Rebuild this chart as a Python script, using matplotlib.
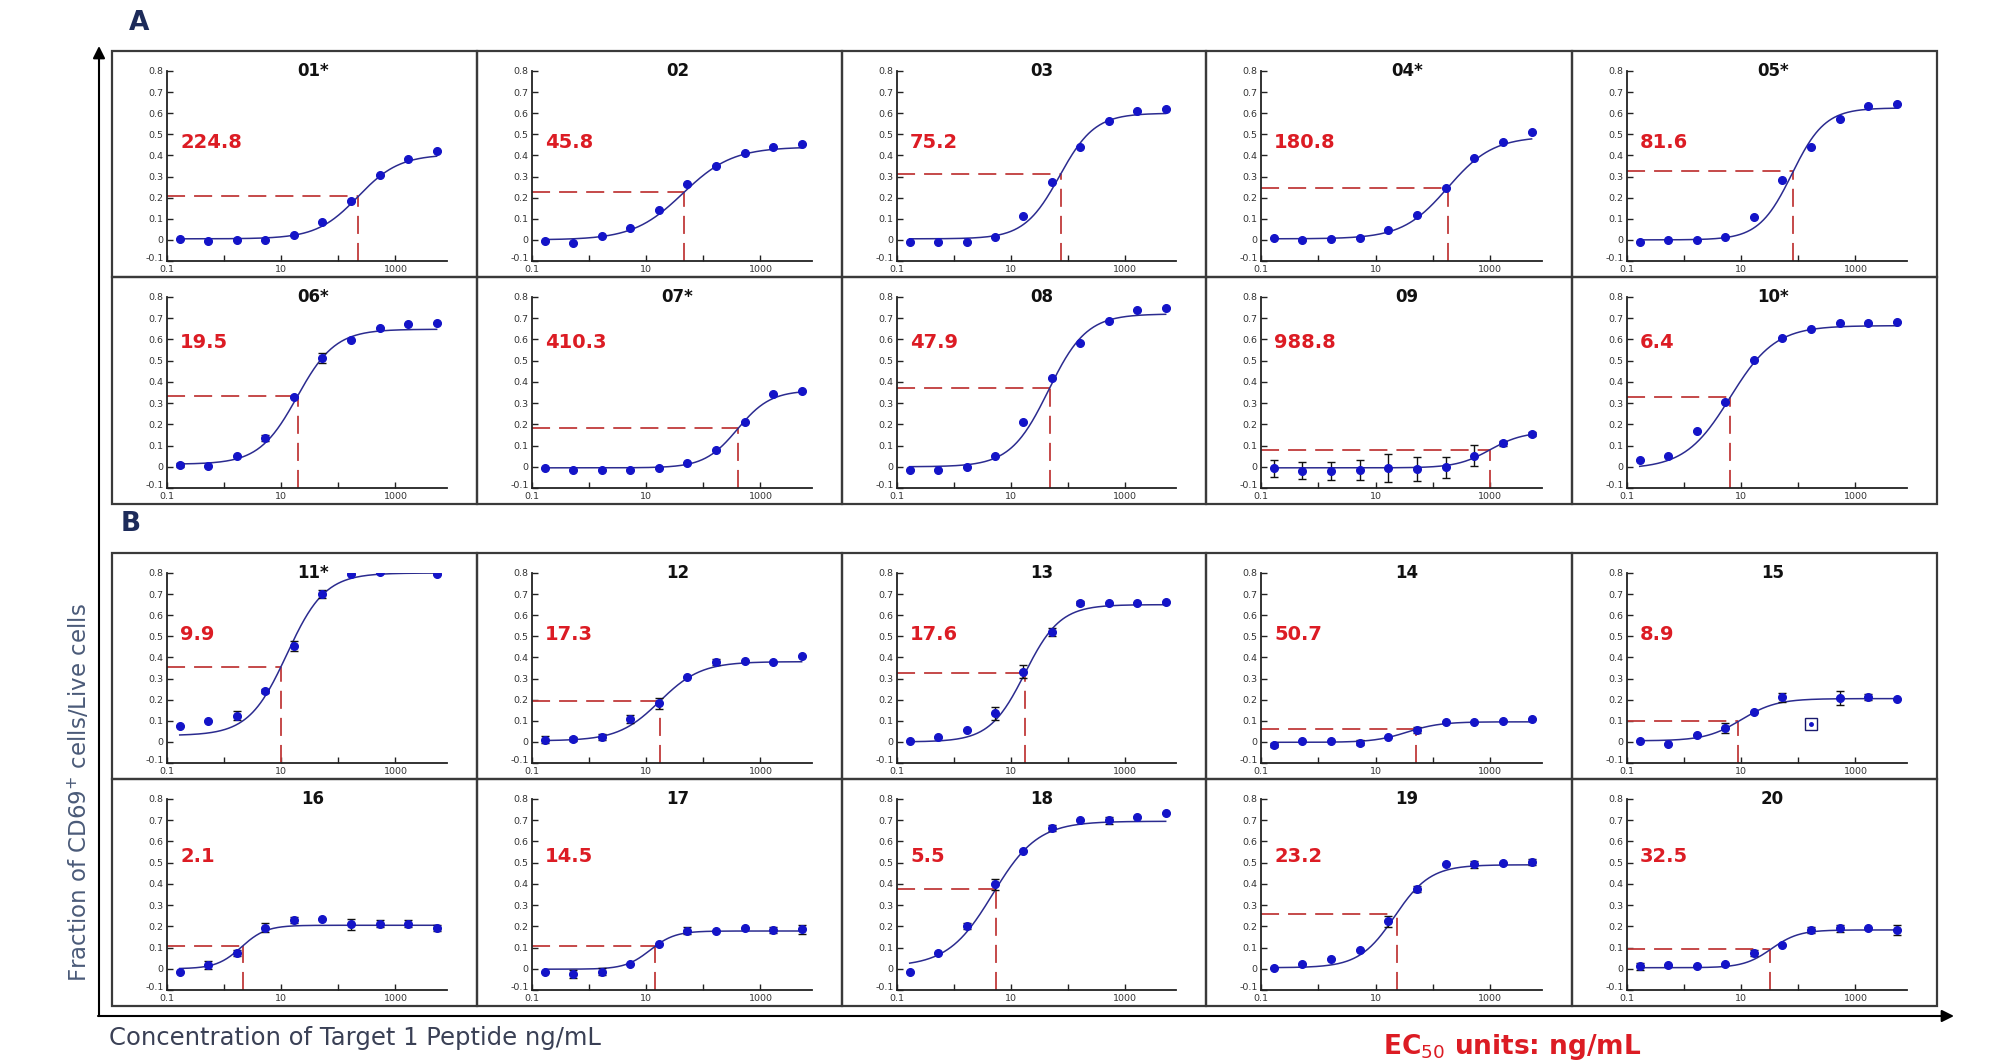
import numpy as np
import matplotlib
matplotlib.use("Agg")
import matplotlib.pyplot as plt
from matplotlib.patches import Rectangle

# ---------------- data ----------------
conc = [0.167, 0.527, 1.67, 5.27, 16.7, 52.7, 167, 527, 1667, 5270]

labels = ['01*', '02', '03', '04*', '05*', '06*', '07*', '08', '09', '10*',
          '11*', '12', '13', '14', '15', '16', '17', '18', '19', '20']
ec50 = [224.8, 45.8, 75.2, 180.8, 81.6, 19.5, 410.3, 47.9, 988.8, 6.4,
        9.9, 17.3, 17.6, 50.7, 8.9, 2.1, 14.5, 5.5, 23.2, 32.5]
ec50_level = [0.207, 0.225, 0.312, 0.247, 0.325, 0.335, 0.182, 0.370, 0.080, 0.327,
              0.356, 0.193, 0.324, 0.059, 0.097, 0.107, 0.107, 0.377, 0.260, 0.091]
fit_bottom = [0.005, 0.0, 0.005, 0.005, 0.0, 0.012, -0.005, 0.0, -0.005, -0.01,
              0.03, 0.005, 0.0, -0.002, 0.005, 0.0, -0.002, 0.01, 0.005, 0.005]
fit_top = [0.405, 0.44, 0.60, 0.49, 0.625, 0.648, 0.36, 0.72, 0.165, 0.665,
           0.80, 0.38, 0.65, 0.095, 0.205, 0.205, 0.178, 0.695, 0.49, 0.183]
fit_hill = [1.2, 1.0, 1.4, 1.1, 1.5, 1.3, 1.5, 1.3, 1.5, 1.1,
            1.3, 1.2, 1.4, 1.5, 1.4, 2.0, 2.0, 1.1, 1.4, 1.8]

nan = np.nan
p01 = [0.006, -0.006, -0.002, 0.000, 0.025, 0.086, 0.183, 0.306, 0.383, 0.419]
p02 = [-0.005, -0.013, 0.019, 0.054, 0.143, 0.265, 0.349, 0.413, 0.440, 0.453]
p03 = [-0.010, -0.010, -0.008, 0.014, 0.112, 0.276, 0.438, 0.564, 0.612, 0.621]
p04 = [0.008, -0.002, 0.006, 0.011, 0.045, 0.118, 0.245, 0.389, 0.465, 0.510]
p05 = [-0.010, -0.002, -0.002, 0.016, 0.107, 0.285, 0.438, 0.572, 0.633, 0.645]
p06 = [0.008, 0.002, 0.050, 0.135, 0.330, 0.513, 0.597, 0.653, 0.672, 0.677]
p07 = [-0.006, -0.013, -0.013, -0.013, -0.008, 0.019, 0.078, 0.211, 0.342, 0.358]
p08 = [-0.013, -0.013, 0.000, 0.050, 0.211, 0.418, 0.584, 0.686, 0.738, 0.746]
p09 = [-0.008, -0.019, -0.019, -0.016, -0.005, -0.011, -0.003, 0.052, 0.110, 0.153]
p10 = [0.030, 0.053, 0.168, 0.306, 0.502, 0.606, 0.651, 0.678, 0.678, 0.683]
p11 = [0.077, 0.099, 0.124, 0.242, 0.455, 0.700, 0.797, 0.805, nan, 0.793]
p12 = [0.011, 0.014, 0.024, 0.108, 0.183, 0.309, 0.378, 0.381, 0.380, 0.405]
p13 = [0.002, 0.022, 0.054, 0.136, 0.332, 0.520, 0.659, 0.659, 0.659, 0.662]
p14 = [-0.013, 0.003, 0.006, -0.003, 0.024, 0.056, 0.094, 0.092, 0.097, 0.110]
p15 = [0.006, -0.011, 0.034, 0.065, 0.140, 0.211, nan, 0.208, 0.214, 0.205]
p16 = [-0.013, 0.019, 0.075, 0.194, 0.231, 0.234, 0.210, 0.213, 0.213, 0.191]
p17 = [-0.013, -0.024, -0.013, 0.022, 0.115, 0.180, 0.177, 0.190, 0.183, 0.186]
p18 = [-0.016, 0.072, 0.202, 0.398, 0.553, 0.664, 0.699, 0.699, 0.713, 0.733]
p19 = [0.006, 0.022, 0.045, 0.088, 0.223, 0.376, 0.494, 0.492, 0.497, 0.502]
p20 = [0.011, 0.019, 0.011, 0.022, 0.075, 0.113, 0.182, 0.190, 0.194, 0.183]
points = [p01, p02, p03, p04, p05, p06, p07, p08, p09, p10,
          p11, p12, p13, p14, p15, p16, p17, p18, p19, p20]

z = [0] * 10
e06 = [0.01, 0, 0, 0.015, 0, 0.025, 0, 0, 0, 0]
e09 = [0.042, 0.04, 0.043, 0.048, 0.067, 0.058, 0.048, 0.05, 0.01, 0.01]
e11 = [0, 0, 0.02, 0.01, 0.025, 0.02, 0, 0, 0, 0]
e12 = [0.015, 0.01, 0.015, 0.02, 0.025, 0, 0.015, 0, 0, 0]
e13 = [0, 0, 0, 0.03, 0.03, 0.02, 0.01, 0, 0, 0]
e14 = [0.01, 0, 0, 0.01, 0, 0.015, 0, 0, 0, 0]
e15 = [0, 0, 0, 0.025, 0, 0.02, 0, 0.035, 0.015, 0]
e16 = [0, 0.02, 0.015, 0.02, 0.015, 0, 0.025, 0.015, 0.015, 0.015]
e17 = [0, 0.02, 0.015, 0, 0, 0.015, 0, 0, 0.015, 0.02]
e18 = [0, 0, 0.015, 0.025, 0, 0.015, 0, 0.015, 0, 0]
e19 = [0, 0, 0, 0, 0.025, 0.015, 0, 0.015, 0, 0.015]
e20 = [0.015, 0, 0, 0, 0.015, 0, 0.015, 0.015, 0, 0.025]
errors = [z, z, z, z, z, e06, z, z, e09, z,
          e11, e12, e13, e14, e15, e16, e17, e18, e19, e20]

# excluded (outlier) point in panel 15
outlier_panel = 14
outlier_index = 6
outlier_value = 0.085

label_rows_y = [0.46, 0.585, 0.51, 0.53]

yticks = [-0.1, 0, 0.1, 0.2, 0.3, 0.4, 0.5, 0.6, 0.7, 0.8]
ytick_labels = ['-0.1', '0', '0.1', '0.2', '0.3', '0.4', '0.5', '0.6', '0.7', '0.8']
xticks = [0.1, 1, 10, 100, 1000]
xtick_labels = ['0.1', '', '10', '', '1000']

# ---------------- layout ----------------
W, H = 1989, 1060
fig = plt.figure(figsize=(W / 100, H / 100), dpi=100)
fig.patch.set_facecolor('white')

bg = fig.add_axes([0, 0, 1, 1])
bg.set_xlim(0, W)
bg.set_ylim(H, 0)
bg.axis('off')

col_edges = [112, 477, 842, 1206, 1572, 1937]
row_edges = [(51, 277), (277, 504), (553, 779), (779, 1006)]

MARK = '#1414c8'
CURVE = '#2b2b8f'
DASH = '#c03a3a'
RED = '#dc1c24'

for r, (y0, y1) in enumerate(row_edges):
    for c in range(5):
        x0, x1 = col_edges[c], col_edges[c + 1]
        bg.add_patch(Rectangle((x0, y0), x1 - x0, y1 - y0, fill=False,
                               edgecolor='#3a3a3a', linewidth=1.6, zorder=2))
        i = r * 5 + c
        ax = fig.add_axes([(x0 + 55) / W, 1 - (y1 - 16) / H,
                           (x1 - 30 - (x0 + 55)) / W, ((y1 - 16) - (y0 + 20)) / H])
        ax.set_xscale('log')
        ax.set_xlim(0.1, 8000)
        ax.set_ylim(-0.1, 0.8)
        for s in ['top', 'right']:
            ax.spines[s].set_visible(False)
        for s in ['left', 'bottom']:
            ax.spines[s].set_linewidth(1.3)
            ax.spines[s].set_color('#222222')
        ax.set_yticks(yticks)
        ax.set_yticklabels(ytick_labels)
        ax.set_xticks(xticks)
        ax.set_xticklabels(xtick_labels)
        ax.xaxis.set_minor_locator(matplotlib.ticker.NullLocator())
        ax.tick_params(axis='both', direction='in', length=4, width=1,
                       labelsize=6.8, labelcolor='#333333', color='#222222')
        ax.tick_params(axis='y', pad=2.5)
        ax.tick_params(axis='x', pad=3)
        ax.get_yticklabels()[0].set_va('baseline')
        ax.patch.set_alpha(0)

        b, t, h = fit_bottom[i], fit_top[i], fit_hill[i]
        e, m = ec50[i], ec50_level[i]
        f = (m - b) / (t - b)
        center = e * (1 / f - 1) ** (1 / h)
        xs = np.logspace(np.log10(conc[0]), np.log10(conc[-1]), 300)
        ys = b + (t - b) / (1 + (center / xs) ** h)
        ax.plot(xs, ys, color=CURVE, lw=1.1, zorder=3)

        ax.plot([0.1, e], [m, m], color=DASH, lw=1.3, dashes=(10, 5), zorder=2)
        ax.plot([e, e], [-0.1, m], color=DASH, lw=1.3, dashes=(10, 5), zorder=2)

        yv = np.array(points[i], dtype=float)
        ev = np.array(errors[i], dtype=float)
        ax.errorbar(conc, yv, yerr=ev, fmt='none', ecolor='#111111',
                    elinewidth=1.0, capsize=3, capthick=1.0, zorder=4)
        ax.plot(conc, yv, 'o', color=MARK, ms=5.5, zorder=5)
        if i == outlier_panel:
            ax.plot([conc[outlier_index]], [outlier_value], 's', ms=8,
                    mfc='none', mec='#1a1a6e', mew=1.0, zorder=5)
            ax.plot([conc[outlier_index]], [outlier_value], 'o', ms=2.5,
                    color=MARK, zorder=5)

        ax.text(0.52, 1.0, labels[i], transform=ax.transAxes, ha='center',
                va='center', fontsize=12, fontweight='bold', color='#111111')
        ax.text(0.17, label_rows_y[r], f'{ec50[i]:.1f}', ha='left', va='center',
                fontsize=14, fontweight='bold', color=RED)

# section letters
bg.text(139, 23, 'A', fontsize=19, fontweight='bold', color='#1d2b5a',
        ha='center', va='center')
bg.text(131, 524, 'B', fontsize=19, fontweight='bold', color='#1d2b5a',
        ha='center', va='center')

# big axes arrows
bg.annotate('', xy=(99, 46), xytext=(99, 1016),
            arrowprops=dict(arrowstyle='-|>', color='black', lw=1.5,
                            mutation_scale=18, shrinkA=0, shrinkB=0))
bg.annotate('', xy=(1954, 1016), xytext=(98, 1016),
            arrowprops=dict(arrowstyle='-|>', color='black', lw=1.5,
                            mutation_scale=18, shrinkA=0, shrinkB=0))

bg.text(79, 793, 'Fraction of CD69$^{+}$ cells/Live cells', rotation=90,
        fontsize=16.5, color='#4a5a78', ha='center', va='center')
bg.text(109, 1038, 'Concentration of Target 1 Peptide ng/mL', fontsize=17.5,
        color='#3a4055', ha='left', va='center')
bg.text(1383, 1047, 'EC$_{50}$ units: ng/mL', fontsize=19, fontweight='bold',
        color=RED, ha='left', va='center')

fig.savefig('out.png', dpi=100)
